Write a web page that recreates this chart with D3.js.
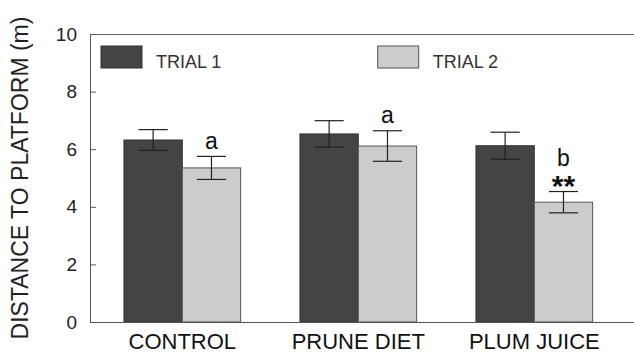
<!DOCTYPE html>
<html><head><meta charset="utf-8">
<script src="https://cdn.jsdelivr.net/npm/d3@7"></script>
<style>body{margin:0;background:#fff}svg{display:block;font-family:"Liberation Sans",Arial,sans-serif}</style>
</head><body><svg id="c" width="634" height="354"></svg>
<script>
const categories = ["CONTROL", "PRUNE DIET", "PLUM JUICE"];
const seriesNames = ["TRIAL 1", "TRIAL 2"];
const trial1 = [6.32, 6.53, 6.12];
const trial1Err = [0.36, 0.46, 0.47];
const trial2 = [5.35, 6.11, 4.16];
const trial2Err = [0.40, 0.53, 0.37];
const letters = ["a", "a", "b"];
const stars = ["", "", "**"];
const yTicks = [0, 2, 4, 6, 8, 10];

const svg = d3.select("#c");
const m = {l: 90, r: 634, t: 34, b: 322};
const y = d3.scaleLinear().domain([0, 10]).range([m.b, m.t]);
const x0 = d3.scaleBand().domain(categories).range([94.3, 622.3]).paddingInner(0.337).paddingOuter(0.1685);
const x1 = d3.scaleBand().domain(seriesNames).range([0, x0.bandwidth()]);
const colors = {"TRIAL 1": "#444444", "TRIAL 2": "#cccccc"};
const strokes = {"TRIAL 1": "#333333", "TRIAL 2": "#555555"};

const data = [];
categories.forEach((c, i) => {
  data.push({c, s: "TRIAL 1", v: trial1[i], e: trial1Err[i]});
  data.push({c, s: "TRIAL 2", v: trial2[i], e: trial2Err[i]});
});

// frame top line
svg.append("line").attr("x1", m.l).attr("x2", m.r).attr("y1", m.t + 0.5).attr("y2", m.t + 0.5)
  .attr("stroke", "#666").attr("stroke-width", 1);

// bars
svg.append("g").selectAll("rect").data(data).join("rect")
  .attr("x", d => x0(d.c) + x1(d.s))
  .attr("y", d => y(d.v))
  .attr("width", x1.bandwidth())
  .attr("height", d => y(0) - y(d.v))
  .attr("fill", d => colors[d.s])
  .attr("stroke", d => strokes[d.s]).attr("stroke-width", 1);

// error bars
const eg = svg.append("g").attr("stroke", "#222").attr("stroke-width", 1.2);
data.forEach(d => {
  const cx = x0(d.c) + x1(d.s) + x1.bandwidth() / 2;
  const hw = x1.bandwidth() / 4;
  eg.append("line").attr("x1", cx).attr("x2", cx).attr("y1", y(d.v + d.e)).attr("y2", y(d.v - d.e));
  eg.append("line").attr("x1", cx - hw).attr("x2", cx + hw).attr("y1", y(d.v + d.e)).attr("y2", y(d.v + d.e));
  eg.append("line").attr("x1", cx - hw).attr("x2", cx + hw).attr("y1", y(d.v - d.e)).attr("y2", y(d.v - d.e));
});

// annotations over trial 2
categories.forEach((c, i) => {
  const cx = x0(c) + x1("TRIAL 2") + x1.bandwidth() / 2;
  const top = y(trial2[i] + trial2Err[i]);
  if (stars[i]) {
    svg.append("text").attr("x", cx).attr("y", top + 4).attr("text-anchor", "middle")
      .attr("font-size", 30).attr("font-weight", "bold").attr("fill", "#111").text(stars[i]);
    svg.append("text").attr("x", cx).attr("y", top - 26).attr("text-anchor", "middle")
      .attr("font-size", 23).attr("fill", "#111").text(letters[i]);
  } else {
    svg.append("text").attr("x", cx).attr("y", top - 7.5).attr("text-anchor", "middle")
      .attr("font-size", 23).attr("fill", "#111").text(letters[i]);
  }
});

// y axis
const yAxis = d3.axisLeft(y).tickValues(yTicks).tickSize(-6).tickPadding(13);
const ya = svg.append("g").attr("transform", `translate(${m.l},0)`).call(yAxis);
ya.select(".domain").attr("stroke", "#555");
ya.selectAll(".tick line").attr("stroke", "#555");
ya.selectAll(".tick text").attr("font-size", 19).attr("fill", "#222").attr("font-family", "Liberation Sans, Arial, sans-serif");

// x axis
const xAxis = d3.axisBottom(x0).tickSize(0).tickPadding(0);
const xa = svg.append("g").attr("transform", `translate(0,${m.b})`).call(xAxis);
xa.select(".domain").attr("d", `M${m.l},0.5H${m.r}`).attr("stroke", "#555");
xa.selectAll(".tick text").attr("font-size", 22).attr("fill", "#111").attr("dy", null).attr("y", 27)
  .attr("font-family", "Liberation Sans, Arial, sans-serif");

// y title
svg.append("text").attr("transform", "translate(27.5,178) rotate(-90)").attr("text-anchor", "middle")
  .attr("font-size", 23).attr("fill", "#222").text("DISTANCE TO PLATFORM (m)");

// legend
const legX = [101, 377.7];
seriesNames.forEach((s, i) => {
  svg.append("rect").attr("x", legX[i]).attr("y", 46).attr("width", 41).attr("height", 22)
    .attr("fill", colors[s]).attr("stroke", strokes[s]);
  svg.append("text").attr("x", legX[i] + 55).attr("y", 68).attr("font-size", 18).attr("fill", "#333").text(s);
});
</script></body></html>
